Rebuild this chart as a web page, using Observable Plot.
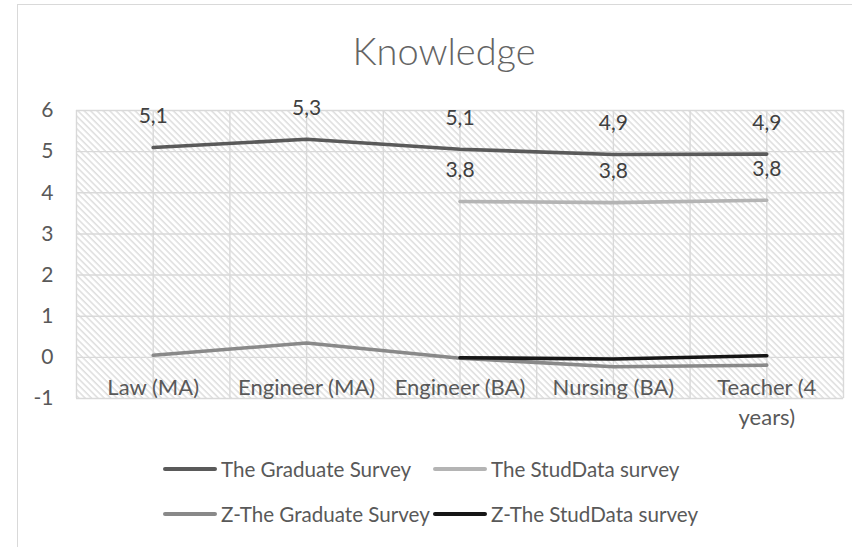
<!DOCTYPE html>
<html><head><meta charset="utf-8">
<script src="https://cdn.jsdelivr.net/npm/d3@7"></script>
<script src="https://cdn.jsdelivr.net/npm/@observablehq/plot@0.6"></script>
<style>
html,body{margin:0;padding:0;background:#fff;}
#wrap{position:relative;width:852px;height:547px;overflow:hidden;font-family:Lato,"Open Sans",sans-serif;}
#border{position:absolute;left:17px;top:4px;width:900px;height:700px;border:1.5px solid #d9d9d9;box-sizing:border-box;}
#chart{position:absolute;left:0;top:0;}
#title{position:absolute;left:0;width:888px;top:28px;height:44px;line-height:44px;text-align:center;font-size:38px;font-weight:300;color:#646464;}
.leg{position:absolute;display:flex;align-items:center;font-size:20.6px;color:#595959;white-space:nowrap;height:30px;}
.sw{display:inline-block;width:54px;height:4px;border-radius:2px;margin-right:4px;}
</style>
</head><body>
<div id="wrap">
  <div id="border"></div>
  <div id="chart"></div>
  <div id="title">Knowledge</div>
  <div id="legend"></div>
</div>
<script>
// ---- data ----
const categories = ["Law (MA)", "Engineer (MA)", "Engineer (BA)", "Nursing (BA)", "Teacher (4 years)"];
const categoryTickLabels = ["Law (MA)", "Engineer (MA)", "Engineer (BA)", "Nursing (BA)", "Teacher (4\nyears)"];
const graduateSurvey = [5.10, 5.30, 5.06, 4.93, 4.94];
const studDataSurvey = [null, null, 3.79, 3.76, 3.82];
const zGraduateSurvey = [0.05, 0.35, -0.02, -0.23, -0.19];
const zStudDataSurvey = [null, null, -0.01, -0.04, 0.04];
const yTicks = [-1, 0, 1, 2, 3, 4, 5, 6];
const seriesNames = ["The Graduate Survey", "The StudData survey", "Z-The Graduate Survey", "Z-The StudData survey"];
const seriesColors = ["#5a5a5a", "#b4b4b4", "#898989", "#161616"];

// ---- tables built from arrays ----
const allSeries = [graduateSurvey, studDataSurvey, zGraduateSurvey, zStudDataSurvey];
const toRows = (vals, s) => vals.map((v, i) => ({series: seriesNames[s], i, category: categories[i], v})).filter(d => d.v != null);
const rows = allSeries.map(toRows);
const labelled = [...rows[0], ...rows[1]];
const fmt = v => v.toFixed(1).replace(".", ",");
const gridXTicks = d3.range(categories.length * 2 + 1).map(k => k / 2 - 0.5);

const plot = Plot.plot({
  width: 852,
  height: 547,
  marginTop: 110,
  marginBottom: 149,
  marginLeft: 76,
  marginRight: 9,
  style: {fontFamily: "Lato, 'Open Sans', sans-serif", color: "#595959", background: "transparent", overflow: "visible"},
  x: {type: "linear", domain: [-0.5, categories.length - 0.5], axis: null},
  y: {domain: [-1, 6], axis: null},
  marks: [
    Plot.frame({fill: "url(#hatch)", stroke: "none"}),
    Plot.gridY(yTicks, {stroke: "#d9d9d9", strokeOpacity: 1, strokeWidth: 1.4}),
    Plot.gridX(gridXTicks, {stroke: "#d9d9d9", strokeOpacity: 1, strokeWidth: 1.4}),
    Plot.axisY(yTicks, {label: null, tickSize: 0, tickPadding: 23, fontSize: 21, tickFormat: d => String(d), fill: "#595959"}),
    Plot.text(categoryTickLabels, {x: (d, i) => i, y: () => 0, text: d => d, lineAnchor: "top", dy: 16, fontSize: 22, lineHeight: 1.36, fill: "#595959"}),
    ...rows.map((r, s) => Plot.line(r, {x: "i", y: "v", stroke: seriesColors[s], strokeWidth: 3.6, strokeLinecap: "round", strokeLinejoin: "round"})),
    Plot.text(labelled, {x: "i", y: "v", text: d => fmt(d.v), dy: -31, fontSize: 21, fill: "#404040"})
  ]
});

// hatch pattern definition
const ns = "http://www.w3.org/2000/svg";
const defs = document.createElementNS(ns, "defs");
defs.innerHTML = '<pattern id="hatch" patternUnits="userSpaceOnUse" width="4.5" height="4.5" patternTransform="rotate(45)">' +
  '<rect width="4.5" height="4.5" fill="#ffffff"/><rect width="4.5" height="1.5" fill="#dedede"/></pattern>';
plot.insertBefore(defs, plot.firstChild);
document.getElementById("chart").appendChild(plot);

// legend
const legend = document.getElementById("legend");
const legPos = [[163, 454], [433, 454], [163, 499], [433, 499]];
seriesNames.forEach((name, s) => {
  const item = document.createElement("div");
  item.className = "leg";
  item.style.left = legPos[s][0] + "px";
  item.style.top = legPos[s][1] + "px";
  const sw = document.createElement("span");
  sw.className = "sw";
  sw.style.background = seriesColors[s];
  item.appendChild(sw);
  item.appendChild(document.createTextNode(name));
  legend.appendChild(item);
});
</script>
</body></html>
